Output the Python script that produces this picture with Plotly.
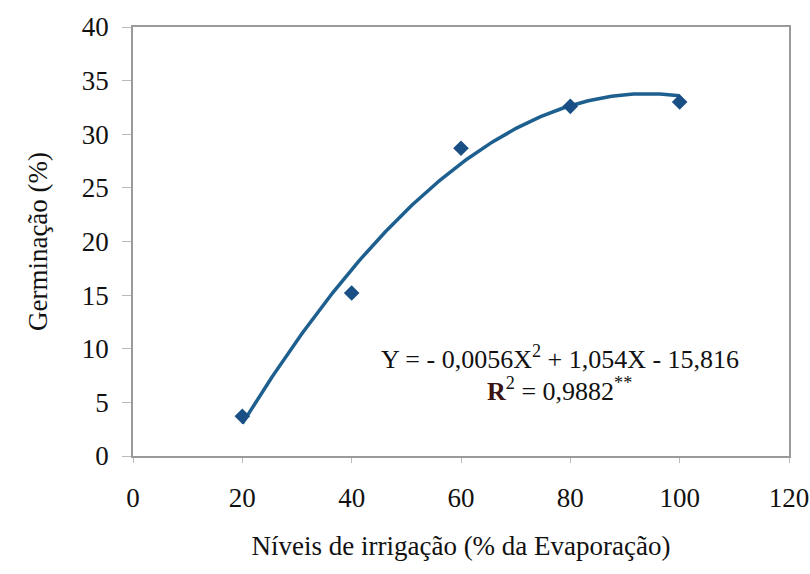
import numpy as np
import plotly.graph_objects as go

irrigation_levels = [20, 40, 60, 80, 100]
germination = [3.7, 15.2, 28.7, 32.6, 33.0]
fit_coeffs = [-0.0056, 1.054, -15.816]  # a, b, c
x_ticks = [0, 20, 40, 60, 80, 100, 120]
y_ticks = [0, 5, 10, 15, 20, 25, 30, 35, 40]

FONT = "Times New Roman, Liberation Serif, serif"
FS = 27

xs = np.linspace(min(irrigation_levels), max(irrigation_levels), 200)
ys = fit_coeffs[0] * xs**2 + fit_coeffs[1] * xs + fit_coeffs[2]

fig = go.Figure()
fig.add_trace(go.Scatter(x=xs, y=ys, mode="lines",
                         line=dict(color="#1d5f8e", width=3.5), showlegend=False,
                         hoverinfo="skip"))
fig.add_trace(go.Scatter(x=irrigation_levels, y=germination, mode="markers",
                         marker=dict(symbol="diamond", size=12, color="#1a4f85"),
                         showlegend=False))

fig.add_annotation(x=78.1, y=9.2, xref="x", yref="y",
                   text="Y = - 0,0056X<sup>2</sup> + 1,054X - 15,816",
                   showarrow=False, font=dict(family=FONT, size=26, color="#111"))
fig.add_annotation(x=78.1, y=6.2, xref="x", yref="y",
                   text="<b><span style='color:#3b1414'>R</span></b><sup>2</sup> = 0,9882<sup>**</sup>",
                   showarrow=False, font=dict(family=FONT, size=26, color="#111"))

fig.update_layout(
    width=810, height=574,
    margin=dict(l=133, r=21, t=27, b=118, autoexpand=False),
    paper_bgcolor="white", plot_bgcolor="white",
    font=dict(family=FONT, size=FS, color="#111"),
)
fig.update_xaxes(range=[0, 120], tickvals=x_ticks, ticktext=[str(v) for v in x_ticks],
                 showgrid=False, zeroline=False, showline=True, linecolor="#9a9a9a",
                 linewidth=1.5, mirror=True, ticks="outside", ticklen=5, tickcolor="#bbb",
                 ticklabelstandoff=12, automargin=False,
                 title=dict(text="Níveis de irrigação (% da Evaporação)", standoff=24,
                            font=dict(family=FONT, size=FS)))
fig.update_yaxes(range=[0, 40], tickvals=y_ticks, ticktext=[str(v) for v in y_ticks],
                 showgrid=False, zeroline=False, showline=True, linecolor="#9a9a9a",
                 linewidth=1.5, mirror=True, ticks="outside", ticklen=9, tickcolor="#bbb",
                 ticklabelstandoff=8, automargin=False,
                 title=dict(text="Germinação (%)", standoff=26,
                            font=dict(family=FONT, size=FS)))

fig.write_html("out.html")
